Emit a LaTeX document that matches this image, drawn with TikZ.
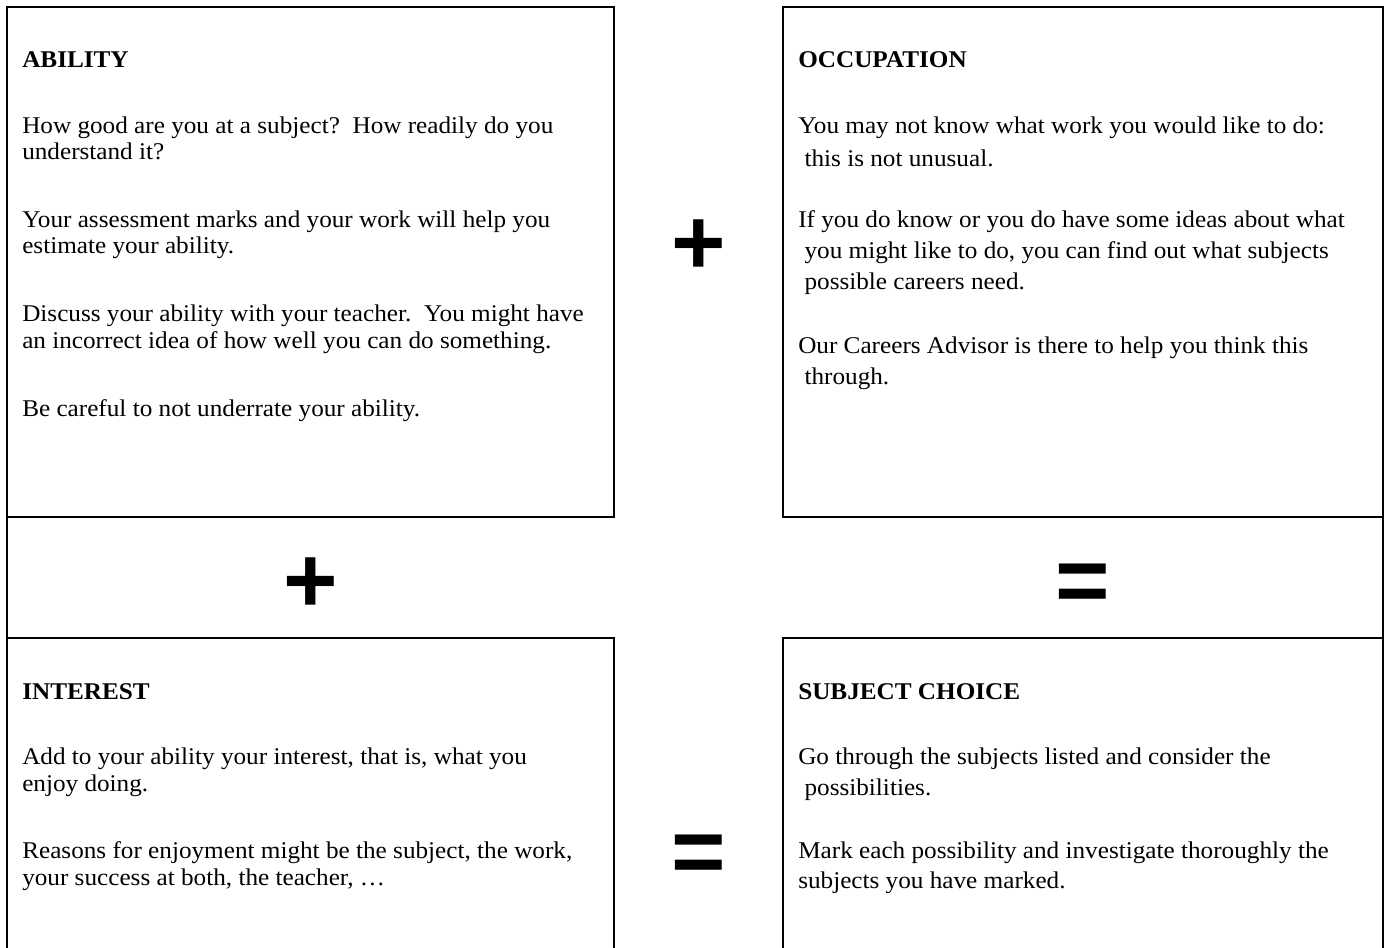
\documentclass[tikz,border=0pt]{standalone}
\usepackage{fontspec}
\setmainfont{Liberation Serif}[FakeStretch=1.05]
\newfontfamily\opfont{Liberation Sans}
\tikzset{
  frame/.style={line width=1.9pt, line join=miter},
  txt/.style={anchor=base west, inner sep=0pt, font=\fontsize{18}{21}\selectfont},
  head/.style={anchor=base west, inner sep=0pt, font=\fontsize{18}{21}\selectfont\bfseries},
  op/.style={anchor=base, inner sep=0pt, font=\opfont\bfseries\fontsize{70}{70}\selectfont}
}
\begin{document}
\begin{tikzpicture}[x=0.75pt,y=-0.75pt]
\useasboundingbox (0,0) rectangle (1386,947);
% frames
\draw[frame] (7,7) rectangle (614,517);
\draw[frame] (783,7) rectangle (1383,517);
\draw[frame] (7,517) -- (7,638);
\draw[frame] (1383,517) -- (1383,638);
\draw[frame] (7,952) -- (7,638) -- (614,638) -- (614,952);
\draw[frame] (783,952) -- (783,638) -- (1383,638) -- (1383,952);
% ABILITY
\node[head] (abh) at (22,67.5) {ABILITY};
\node[txt] (ab1) at (22,133.5) {How good are you at a subject?\ \ How readily do you};
\node[txt] (ab2) at (22,159.5) {understand it?};
\node[txt] (ab3) at (22,227.5) {Your assessment marks and your work will help you};
\node[txt] (ab4) at (22,253.5) {estimate your ability.};
\node[txt] (ab5) at (22,321.5) {Discuss your ability with your teacher.\ \ You might have};
\node[txt] (ab6) at (22,348.5) {an incorrect idea of how well you can do something.};
\node[txt] (ab7) at (22,416.5) {Be careful to not underrate your ability.};
% OCCUPATION
\node[head] (och) at (798,67.5) {OCCUPATION};
\node[txt] (oc1) at (798,133.5) {You may not know what work you would like to do:};
\node[txt] (oc2) at (798,166.5) {\ this is not unusual.};
\node[txt] (oc3) at (798,227.5) {If you do know or you do have some ideas about what};
\node[txt] (oc4) at (798,258.5) {\ you might like to do, you can find out what subjects};
\node[txt] (oc5) at (798,289.5) {\ possible careers need.};
\node[txt] (oc6) at (798,353.5) {Our Careers Advisor is there to help you think this};
\node[txt] (oc7) at (798,384.5) {\ through.};
% INTEREST
\node[head] (inh) at (22,699.5) {INTEREST};
\node[txt] (in1) at (22,764.5) {Add to your ability your interest, that is, what you};
\node[txt] (in2) at (22,791.5) {enjoy doing.};
\node[txt] (in3) at (22,858.5) {Reasons for enjoyment might be the subject, the work,};
\node[txt] (in4) at (22,885.5) {your success at both, the teacher, …};
% SUBJECT CHOICE
\node[head] (sch) at (798,699.5) {SUBJECT CHOICE};
\node[txt] (sc1) at (798,764.5) {Go through the subjects listed and consider the};
\node[txt] (sc2) at (798,795.5) {\ possibilities.};
\node[txt] (sc3) at (798,858.5) {Mark each possibility and investigate thoroughly the};
\node[txt] (sc4) at (798,888.5) {subjects you have marked.};
% operators
\node[op] (plus1) at (699,274) {+};
\node[op] (plus2) at (311,612) {+};
\node[op] (eq1) at (1083,612) {=};
\node[op] (eq2) at (699,883) {=};
\end{tikzpicture}
\end{document}
